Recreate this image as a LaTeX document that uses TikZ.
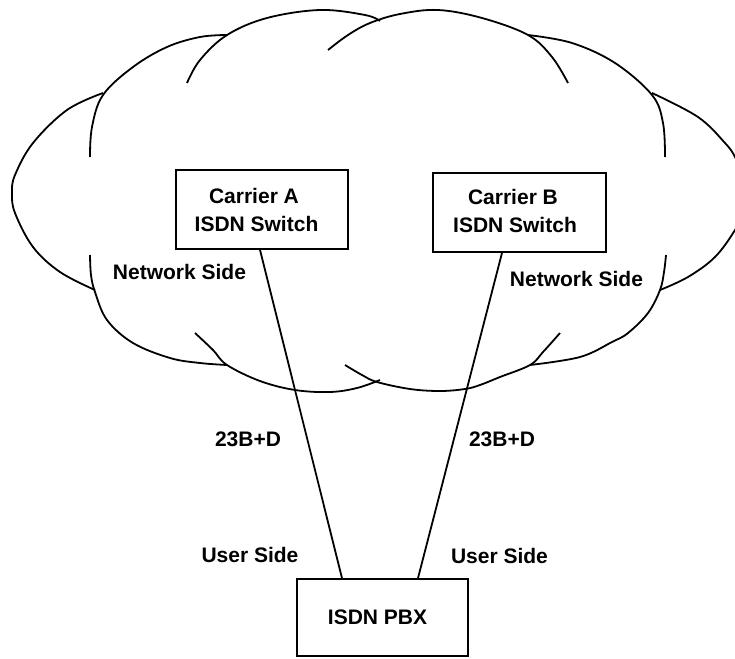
\documentclass[tikz,border=0pt]{standalone}
\usepackage{fontspec}
\setmainfont{Liberation Sans}
\begin{document}
\begin{tikzpicture}[x=1pt,y=-1pt,
  cloudarc/.style={line width=1.8pt, smooth, tension=0.6},
  box/.style={draw, line width=1.8pt, inner sep=0pt, rectangle},
  lbl/.style={font=\fontsize{21}{25}\selectfont\bfseries, inner sep=0pt, anchor=base},
  link/.style={line width=1.8pt}]
\useasboundingbox (0,0) rectangle (735,658);
\begin{scope}
\clip (0,0) rectangle (735,658);
% left ellipse
\draw[cloudarc] plot coordinates {(103,93) (67,110) (33,143) (15,175) (12,193) (15,213) (33,247) (60,272) (95,290)};
% left-upper ellipse
\draw[cloudarc] plot coordinates {(90,157) (92,127) (103,95) (133,67) (167,47) (200,37) (227,35)};
% top-left ellipse
\draw[cloudarc] plot coordinates {(187,83) (200,60) (227,35) (267,18) (320,10) (365,15) (380,21)};
% top-right ellipse
\draw[cloudarc] plot coordinates {(328,50) (348,35) (370,23) (400,14) (438,10) (482,18) (528,35) (552,57) (568,83)};
% right-upper ellipse
\draw[cloudarc] plot coordinates {(528,35) (572,43) (615,63) (652,95) (663,123) (665,157)};
% right ellipse
\draw[cloudarc] plot coordinates {(652,93) (698,117) (725,143) (735,157) (743,177) (745,193) (743,212) (735,230) (715,257) (688,277) (660,290)};
% lower-right ellipse
\draw[cloudarc] plot coordinates {(666,255) (664,272) (660,290) (648,313) (628,333) (612,342) (580,357) (530,365)};
% bottom-centre-right ellipse
\draw[cloudarc] plot coordinates {(345,365) (362,375) (377,382) (410,389) (440,391) (465,389) (480,385) (500,377) (530,365) (543,352) (560,333)};
% bottom-centre-left ellipse
\draw[cloudarc] plot coordinates {(195,333) (213,350) (227,365) (260,381) (295,390) (330,392) (357,388) (380,380)};
% bottom-left ellipse
\draw[cloudarc] plot coordinates {(90,255) (91,275) (95,292) (107,320) (133,343) (170,358) (200,363) (227,365)};
\end{scope}

% boxes
\node[box, minimum width=172pt, minimum height=79pt] (ca) at (262,209.5) {};
\node[box, minimum width=173pt, minimum height=79pt] (cb) at (519.5,212.5) {};
\node[box, minimum width=171pt, minimum height=77pt] (pbx) at (382.5,617.5) {};

% texts in boxes
\node[lbl] (ca1) at (254,203) {Carrier A};
\node[lbl] (ca2) at (256.5,231) {ISDN Switch};
\node[lbl] (cb1) at (513,204) {Carrier B};
\node[lbl] (cb2) at (515,232) {ISDN Switch};
\node[lbl] (pbxt) at (377.5,624) {ISDN PBX};

% links
\draw[link] ([xshift=-2pt]ca.south) -- ([xshift=-40.5pt]pbx.north);
\draw[link] ([xshift=-17.5pt]cb.south) -- ([xshift=35.5pt]pbx.north);

% labels
\node[lbl] (ns1) at (179.5,279) {Network Side};
\node[lbl] (ns2) at (576.5,286) {Network Side};
\node[lbl] (bd1) at (248,446) {23B+D};
\node[lbl] (bd2) at (502,446) {23B+D};
\node[lbl] (us1) at (250,562) {User Side};
\node[lbl] (us2) at (499.5,563) {User Side};
\end{tikzpicture}
\end{document}
